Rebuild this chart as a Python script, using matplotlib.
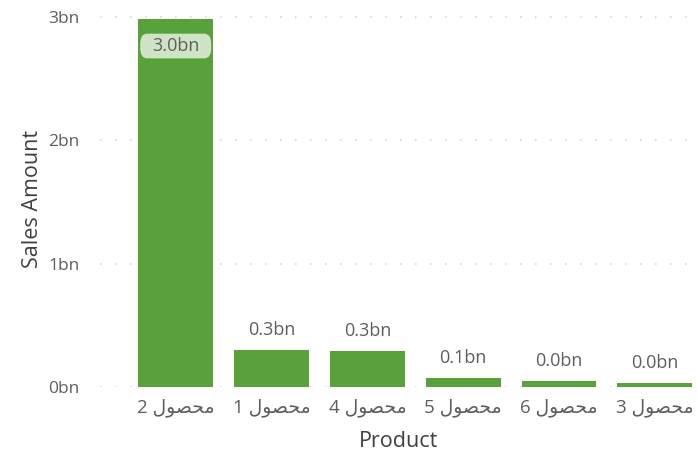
import matplotlib.pyplot as plt
from matplotlib.patches import FancyBboxPatch

# data
products = ['محصول 2', 'محصول 1', 'محصول 4', 'محصول 5', 'محصول 6', 'محصول 3']
sales_bn = [2.98, 0.30, 0.29, 0.075, 0.05, 0.035]
value_labels = ['3.0bn', '0.3bn', '0.3bn', '0.1bn', '0.0bn', '0.0bn']
y_ticks = [0, 1, 2, 3]
y_tick_labels = ['0bn', '1bn', '2bn', '3bn']

# matplotlib has no Arabic shaping / bidi, so shape the few letters by hand
# forms: (isolated, final, initial, medial), joins_left
FORMS = {
    'م': ('\uFEE1', '\uFEE2', '\uFEE3', '\uFEE4', True),
    'ح': ('\uFEA1', '\uFEA2', '\uFEA3', '\uFEA4', True),
    'ص': ('\uFEB9', '\uFEBA', '\uFEBB', '\uFEBC', True),
    'و': ('\uFEED', '\uFEEE', '\uFEED', '\uFEEE', False),
    'ل': ('\uFEDD', '\uFEDE', '\uFEDF', '\uFEE0', True),
}


def shape_word(word):
    out = []
    for i, ch in enumerate(word):
        if ch not in FORMS:
            out.append(ch)
            continue
        prev = word[i - 1] if i > 0 else None
        nxt = word[i + 1] if i + 1 < len(word) else None
        from_prev = prev in FORMS and FORMS[prev][4]
        to_next = FORMS[ch][4] and nxt in FORMS
        iso, fin, ini, med, _ = FORMS[ch]
        if from_prev and to_next:
            out.append(med)
        elif from_prev:
            out.append(fin)
        elif to_next:
            out.append(ini)
        else:
            out.append(iso)
    return ''.join(reversed(out))


def visual(label):
    word, num = label.split(' ')
    return num + ' ' + shape_word(word)


plt.rcParams['font.family'] = ['Open Sans', 'DejaVu Sans']

green = '#59A23B'
grey = '#605E5C'
dark = '#404040'

fig = plt.figure(figsize=(6.97, 4.54), dpi=100)
ax = fig.add_axes([100 / 697, 1 - 387 / 454, 597 / 697, 377 / 454])

x = list(range(len(products)))
ax.bar(x, sales_bn, width=0.78, color=green, zorder=2)

ax.set_xlim(-0.79, 5.44)
ax.set_ylim(0, 3.057)
ax.set_yticks(y_ticks)
ax.set_yticklabels(y_tick_labels, color=grey, fontsize=12.5)
ax.set_xticks(x)
ax.set_xticklabels([visual(p) for p in products], color=grey, fontsize=13.5)
ax.tick_params(length=0, pad=14.5, axis='y')
ax.tick_params(length=0, pad=8, axis='x')
for s in ax.spines.values():
    s.set_visible(False)
ax.grid(axis='y', color='#D8D8D8', linestyle=(0, (1, 8)), linewidth=1.2, zorder=0)
ax.set_axisbelow(True)

ax.set_ylabel('Sales Amount', color=dark, fontsize=15.5, labelpad=4)
ax.set_xlabel('Product', color=dark, fontsize=15.5, labelpad=10)

# data labels
for i, (v, lab) in enumerate(zip(sales_bn, value_labels)):
    if v > 1:
        ax.text(i, v - 0.215, lab, ha='center', va='center', color=grey,
                fontsize=13, zorder=4)
        box = FancyBboxPatch((i - 0.37, v - 0.315), 0.74, 0.2,
                             boxstyle='round,pad=0,rounding_size=0.07',
                             mutation_aspect=1.2,
                             facecolor='#CFE4C7', edgecolor='none', zorder=3)
        ax.add_patch(box)
    else:
        ax.text(i, v + 0.09, lab, ha='center', va='bottom', color=grey,
                fontsize=13)

fig.savefig('out.png', dpi=100)
